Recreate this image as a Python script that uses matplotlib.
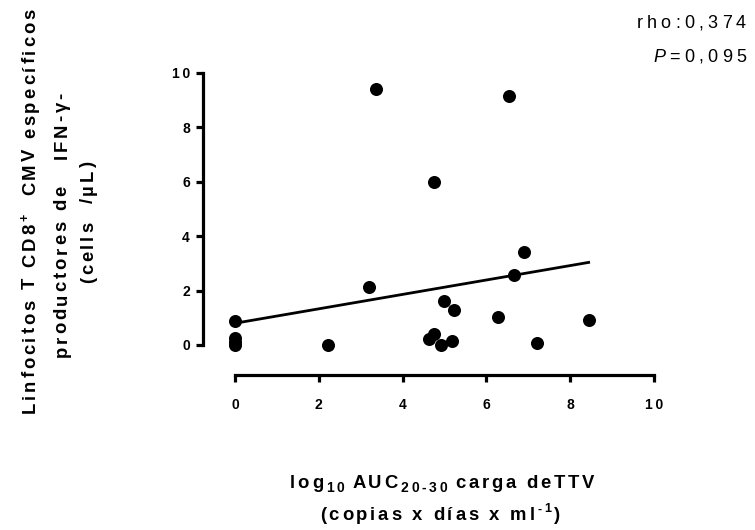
import matplotlib
matplotlib.use("Agg")
import matplotlib.pyplot as plt
from matplotlib.font_manager import FontProperties, findfont, get_font
import numpy as np

plt.rcParams['font.family'] = ['Liberation Sans', 'DejaVu Sans']

# Data (log10 AUC TTV load vs CMV-specific CD8+ IFN-g T cells)
auc_x = [0.0, 0.0, 0.0, 0.0, 2.22, 3.19, 3.36, 4.62, 4.75, 4.76, 4.92, 4.98,
         5.17, 5.22, 6.27, 6.54, 6.65, 6.90, 7.21, 8.44]
cells_y = [0.88, 0.26, 0.10, 0.0, 0.0, 2.14, 9.43, 0.21, 0.40, 6.0, 0.0, 1.61,
           0.15, 1.30, 1.02, 9.14, 2.56, 3.41, 0.06, 0.92]
fit_intercept = 0.80
fit_slope = 0.265
x_ticks = [0, 2, 4, 6, 8, 10]
y_ticks = [0, 2, 4, 6, 8, 10]
rho_text = "rho:0,374"
p_value = "0,095"

W, H = 755, 530
DPI = 100
fig = plt.figure(figsize=(W / DPI, H / DPI), dpi=DPI)


def char_adv(c, prop):
    font = get_font(findfont(prop))
    font.set_size(prop.get_size_in_points(), DPI)
    g = font.load_char(ord(c))
    return g.linearHoriAdvance / 65536.0


def tracked(pieces, ax_, ay, rot=0, align='center', color='black'):
    """pieces: list of (text, size_pt, weight, style, shift_px, tracking_px).
    Coordinates in pixels, origin top-left. For rot=0 ay is the baseline;
    for rot=90 ax_ is the baseline."""
    items = []
    for text, size, weight, style, shift, trk in pieces:
        prop = FontProperties(family='Liberation Sans', size=size, weight=weight, style=style)
        for c in text:
            items.append((c, prop, shift, char_adv(c, prop), trk))
    total = sum(a + t for _, _, _, a, t in items) - items[-1][4]
    if align == 'center':
        start = -total / 2
    elif align == 'right':
        start = -total
    else:
        start = 0
    pos = start
    for c, prop, shift, adv, trk in items:
        if c != ' ':
            if rot == 0:
                x = ax_ + pos
                y = H - (ay - shift)
            else:
                x = ax_ - shift
                y = H - (ay - pos)
            fig.text(x / W, y / H, c, fontproperties=prop, rotation=rot,
                     rotation_mode='anchor', ha='left', va='baseline', color=color)
        pos += adv + trk


ax = fig.add_axes([203.5 / W, 1 - 375 / H, (654 - 203.5) / W, (375 - 73) / H])

ax.scatter(auc_x, cells_y, s=88, color='black', zorder=3, clip_on=False, linewidths=0)
xf = np.array([0, max(auc_x)])
ax.plot(xf, fit_intercept + fit_slope * xf, color='black', lw=2.0)

ax.set_xlim(-(235 - 203.5) / 41.9, 10)
ax.set_ylim(-(375 - 345) / 27.2, 10)

for s in ['top', 'right']:
    ax.spines[s].set_visible(False)
ax.spines['left'].set_bounds(0, 10)
ax.spines['bottom'].set_bounds(0, 10)
ax.spines['left'].set_linewidth(2.3)
ax.spines['bottom'].set_linewidth(2.3)
ax.set_xticks(x_ticks)
ax.set_yticks(y_ticks)
TS = '\u2009'
ax.set_xticklabels([TS.join(str(t)) for t in x_ticks], fontweight='bold', fontsize=10)
ax.set_yticklabels([TS.join(str(t)) for t in y_ticks], fontweight='bold', fontsize=10)
ax.tick_params(axis='both', length=5.0, width=2.3, color='black')
ax.tick_params(axis='x', pad=11.5)
ax.tick_params(axis='y', pad=4.8)

B = 'bold'
N = 'normal'
fs = 13.3
trk = 2.8
# Y label (three lines, rotated)
tracked([("Linfocitos T CD8", fs, B, N, 0, trk), ("+", 9, B, N, 6.5, trk),
         ("  CMV específicos", fs, B, N, 0, trk)], 35, 211, rot=90)
tracked([("productores de   IFN-γ-", fs, B, N, 0, trk)], 66.5, 225, rot=90)
tracked([("(cells  /µL)", fs, B, N, 0, trk)], 93, 222, rot=90)

# X label (two lines)
tracked([("log", fs, B, N, 0, trk), ("10", 10, B, N, -4, trk), (" ", fs, B, N, 0, 0),
         ("AUC", fs, B, N, 0, trk), ("20-30", 10, B, N, -4, trk), (" ", fs, B, N, 0, 0),
         ("carga deTTV", fs, B, N, 0, trk)], 442, 488)
tracked([("(copias x días x ml", fs, B, N, 0, trk), ("-1", 9, B, N, 7.5, trk),
         (")", fs, B, N, 0, 0)], 440, 520)

# Stats annotation
tracked([(rho_text, 13, N, N, 0, 4.2)], 746, 28.5, align='right')
tracked([("P", 13, N, 'italic', 0, 4.2), ("=" + p_value, 13, N, N, 0, 4.2)], 746, 62, align='right')

fig.savefig("out.png", dpi=DPI)
